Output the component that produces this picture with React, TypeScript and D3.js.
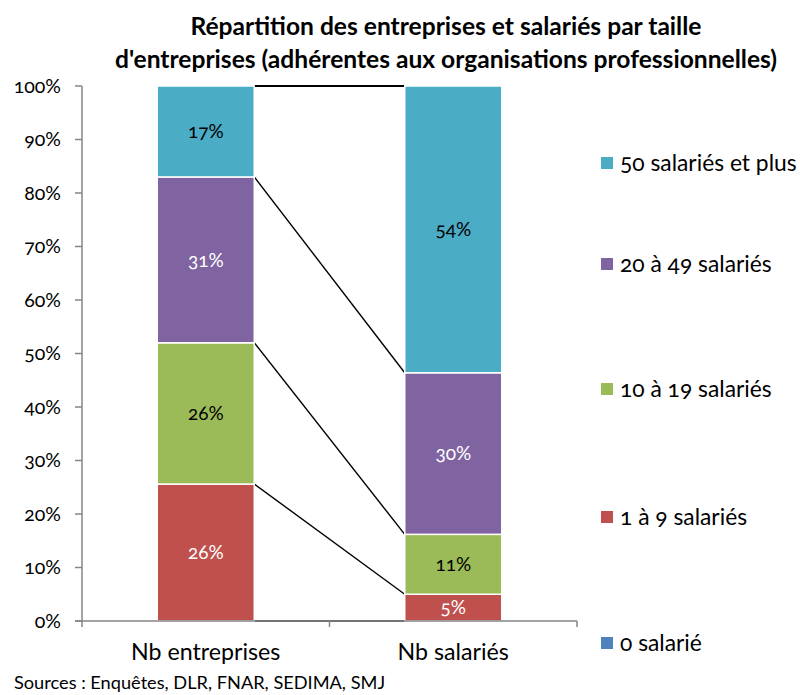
import React from 'react';
import * as d3 from 'd3';

// categories (x axis) and series (stack order, bottom to top)
const categories = ['Nb entreprises', 'Nb salariés'];
const seriesNames = ['0 salarié', '1 à 9 salariés', '10 à 19 salariés', '20 à 49 salariés', '50 salariés et plus'];
const seriesColors = ['#4F81BD', '#C0504D', '#9BBB59', '#8064A2', '#4BACC6'];
const labelColors = ['#fff', '#fff', '#000', '#fff', '#000'];

// percentages per series, one value per category
const zeroSalarie = [0, 0];
const unANeuf = [25.6, 5.0];
const dixADixNeuf = [26.4, 11.2];
const vingtAQuarante = [31.0, 30.2];
const cinquantePlus = [17.0, 53.6];

const yTicks = [0, 10, 20, 30, 40, 50, 60, 70, 80, 90, 100];

const title1 = 'Répartition des entreprises et salariés par taille';
const title2 = "d'entreprises (adhérentes aux organisations professionnelles)";
const sources = 'Sources : Enquêtes, DLR, FNAR, SEDIMA, SMJ';

const legendY = [643, 517, 389, 264, 163];

const FONT = 'Lato, "Open Sans", sans-serif';

export default function App() {
  const width = 800;
  const height = 695;
  const left = 82;
  const right = 577;
  const top = 86;
  const bottom = 621;

  const values = [zeroSalarie, unANeuf, dixADixNeuf, vingtAQuarante, cinquantePlus];
  const rows = categories.map((c, i) => {
    const r: any = { cat: c };
    seriesNames.forEach((s, j) => (r[s] = values[j][i]));
    return r;
  });
  const stacked = d3.stack().keys(seriesNames)(rows);

  const x = d3.scaleBand().domain(categories).range([left, right]).paddingInner(0.608).paddingOuter(0.304);
  const y = d3.scaleLinear().domain([0, 100]).range([bottom, top]);
  const bw = x.bandwidth();
  const fmt = (v: number) => d3.format('.0f')(v) + '%';

  const x0 = (x(categories[0]) as number) + bw;
  const x1 = x(categories[1]) as number;

  return (
    <svg width={width} height={height} style={{ position: 'absolute', left: 0, top: 0, fontFamily: FONT, fontVariantNumeric: 'oldstyle-nums' }}>
      <rect width={width} height={height} fill="#fff" />
      <text x={446} y={35} textAnchor="middle" fontWeight="bold" fontSize={24.6}>{title1}</text>
      <text x={446} y={68} textAnchor="middle" fontWeight="bold" fontSize={24.6}>{title2}</text>

      {/* series lines */}
      {stacked.map((s) => (
        <line key={'sl' + s.key} x1={x0} x2={x1} y1={y(s[0][1])} y2={y(s[1][1])} stroke="#000" strokeWidth={s.key === seriesNames[4] ? 2.2 : 1.4} />
      ))}

      {stacked.map((s, j) => (
        <g key={s.key}>
          {s.map((d, i) => (
            <rect key={i} x={x(categories[i])} y={y(d[1])} width={bw} height={Math.max(0, y(d[0]) - y(d[1]))}
              fill={seriesColors[j]} stroke="#fff" strokeWidth={d[1] - d[0] > 0 ? 1.5 : 0} />
          ))}
          {s.map((d, i) =>
            d[1] - d[0] > 0 ? (
              <text key={'t' + i} x={(x(categories[i]) as number) + bw / 2} y={(y(d[0]) + y(d[1])) / 2} dy="0.35em"
                textAnchor="middle" fontSize={19} fill={labelColors[j]}>{fmt(d[1] - d[0])}</text>
            ) : null
          )}
        </g>
      ))}

      {/* y axis */}
      <line x1={left} x2={left} y1={top} y2={bottom} stroke="#868686" strokeWidth={1.5} />
      {yTicks.map((t) => (
        <g key={t}>
          <line x1={left - 7} x2={left} y1={y(t)} y2={y(t)} stroke="#868686" strokeWidth={1.5} />
          <text x={61} y={y(t)} dy="0.35em" textAnchor="end" fontSize={19.5}>{t}%</text>
        </g>
      ))}

      {/* x axis */}
      <line x1={left - 7} x2={right} y1={bottom} y2={bottom} stroke="#868686" strokeWidth={1.5} />
      {[left, left + x.step(), right].map((t, i) => (
        <line key={i} x1={t} x2={t} y1={bottom} y2={bottom + 6} stroke="#868686" strokeWidth={1.5} />
      ))}
      {categories.map((c) => (
        <text key={c} x={(x(c) as number) + bw / 2} y={652} dy="0.35em" textAnchor="middle" fontSize={23.2}>{c}</text>
      ))}

      {/* legend */}
      {seriesNames.map((s, j) => (
        <g key={'lg' + s}>
          <rect x={601} y={legendY[j] - 6} width={12} height={12} fill={seriesColors[j]} />
          <text x={620} y={legendY[j]} dy="0.35em" fontSize={22.8}>{s}</text>
        </g>
      ))}

      <text x={14} y={689} fontSize={18.2}>{sources}</text>
    </svg>
  );
}
